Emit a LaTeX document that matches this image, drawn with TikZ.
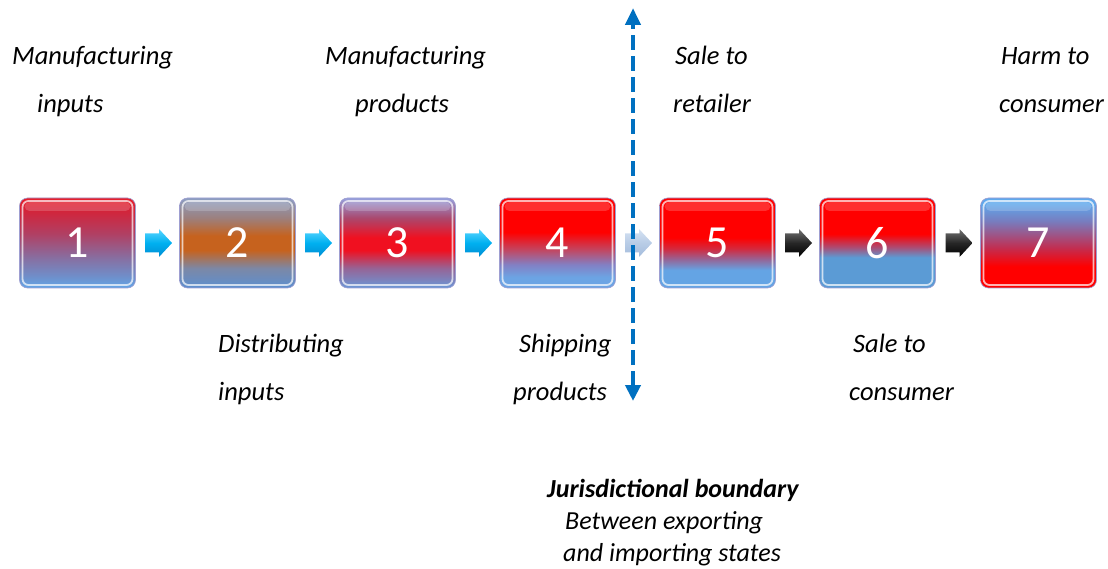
\documentclass[tikz,border=0pt]{standalone}
\usepackage{fontspec}
\setmainfont{Carlito}
\usetikzlibrary{calc,arrows.meta}
\pgfdeclareverticalshading{sh1}{100bp}{color(0bp)=(rgb,255:red,98;green,166;blue,232); color(25bp)=(rgb,255:red,98;green,166;blue,232); color(31bp)=(rgb,255:red,110;green,144;blue,204); color(42bp)=(rgb,255:red,136;green,110;blue,160); color(55bp)=(rgb,255:red,176;green,64;blue,100); color(68bp)=(rgb,255:red,210;green,36;blue,58); color(75bp)=(rgb,255:red,232;green,30;blue,42); color(100bp)=(rgb,255:red,232;green,30;blue,42)}
\pgfdeclareverticalshading{sh2}{100bp}{color(0bp)=(rgb,255:red,92;green,143;blue,208); color(25bp)=(rgb,255:red,92;green,143;blue,208); color(36bp)=(rgb,255:red,124;green,136;blue,166); color(46bp)=(rgb,255:red,198;green,98;blue,30); color(54bp)=(rgb,255:red,198;green,98;blue,30); color(64bp)=(rgb,255:red,156;green,128;blue,126); color(75bp)=(rgb,255:red,140;green,158;blue,194); color(100bp)=(rgb,255:red,140;green,158;blue,194)}
\pgfdeclareverticalshading{sh3}{100bp}{color(0bp)=(rgb,255:red,106;green,152;blue,216); color(25bp)=(rgb,255:red,106;green,152;blue,216); color(36bp)=(rgb,255:red,150;green,100;blue,150); color(46bp)=(rgb,255:red,240;green,16;blue,32); color(53bp)=(rgb,255:red,240;green,16;blue,32); color(64bp)=(rgb,255:red,170;green,72;blue,110); color(75bp)=(rgb,255:red,150;green,160;blue,222); color(100bp)=(rgb,255:red,150;green,160;blue,222)}
\pgfdeclareverticalshading{sh4}{100bp}{color(0bp)=(rgb,255:red,108;green,164;blue,228); color(31bp)=(rgb,255:red,108;green,164;blue,228); color(38bp)=(rgb,255:red,130;green,128;blue,196); color(46bp)=(rgb,255:red,192;green,72;blue,100); color(56bp)=(rgb,255:red,255;green,0;blue,0); color(100bp)=(rgb,255:red,255;green,0;blue,0)}
\pgfdeclareverticalshading{sh5}{100bp}{color(0bp)=(rgb,255:red,100;green,164;blue,228); color(35bp)=(rgb,255:red,100;green,164;blue,228); color(41bp)=(rgb,255:red,150;green,100;blue,150); color(47bp)=(rgb,255:red,212;green,40;blue,60); color(53bp)=(rgb,255:red,255;green,0;blue,0); color(100bp)=(rgb,255:red,255;green,0;blue,0)}
\pgfdeclareverticalshading{sh6}{100bp}{color(0bp)=(rgb,255:red,91;green,155;blue,213); color(42bp)=(rgb,255:red,91;green,155;blue,213); color(48bp)=(rgb,255:red,176;green,72;blue,110); color(55bp)=(rgb,255:red,255;green,0;blue,0); color(100bp)=(rgb,255:red,255;green,0;blue,0)}
\pgfdeclareverticalshading{sh7}{100bp}{color(0bp)=(rgb,255:red,255;green,0;blue,0); color(37bp)=(rgb,255:red,255;green,0;blue,0); color(47bp)=(rgb,255:red,196;green,44;blue,78); color(62bp)=(rgb,255:red,120;green,124;blue,190); color(72bp)=(rgb,255:red,95;green,168;blue,236); color(100bp)=(rgb,255:red,95;green,168;blue,236)}
\definecolor{jblue}{RGB}{0,112,192}
\definecolor{acyanT}{RGB}{90,214,255}
\definecolor{acyan}{RGB}{0,176,240}
\definecolor{acyanB}{RGB}{0,140,210}
\definecolor{afadeT}{RGB}{214,226,242}
\definecolor{afade}{RGB}{184,204,230}
\definecolor{afadeB}{RGB}{164,188,220}
\tikzset{
  box/.style={rounded corners=8pt, minimum width=116pt, minimum height=90pt, inner sep=0pt,
    draw=white!55!gray!80!blue, line width=0.6pt, text=white, font=\fontsize{46}{46}\selectfont,
    path picture={
      \draw[white, opacity=0.7, line width=1.8pt, rounded corners=6pt]
        ([shift={(3pt,-3pt)}]path picture bounding box.north west) rectangle
        ([shift={(-3pt,3pt)}]path picture bounding box.south east);
      \fill[white, opacity=0.18, rounded corners=5pt]
        ([shift={(5pt,-4pt)}]path picture bounding box.north west) rectangle
        ([shift={(-5pt,-13pt)}]path picture bounding box.north east);
    }},
  lbl/.style={font=\fontsize{26.5}{30}\selectfont\itshape, anchor=base west, inner sep=0pt},
  blockarr/.pic={\path[pic actions] (-13.5,-9.5) -- (0.5,-9.5) -- (0.5,-14) -- (13.5,0) -- (0.5,14) -- (0.5,9.5) -- (-13.5,9.5) -- cycle;},
  cyanarr/.style={top color=acyanT, bottom color=acyanB, middle color=acyan, draw=none},
  fadearr/.style={top color=afadeT, bottom color=afadeB, middle color=afade, draw=none},
  blackarr/.style={top color=black!55, bottom color=black, middle color=black!85, draw=none},
  jline/.style={draw=jblue, line width=4.5pt, dash pattern=on 15pt off 6pt, {Triangle[length=16pt,width=15pt]}-{Triangle[length=17pt,width=15pt]}}
}
\begin{document}
\begin{tikzpicture}[x=1pt,y=-1pt]
\useasboundingbox (0,0) rectangle (1108,569);
% boxes
\node[box, shading=sh1] (b1) at (77.5,243) {1};
\node[box, shading=sh2] (b2) at (237.5,243) {2};
\node[box, shading=sh3] (b3) at (397.5,243) {3};
\node[box, shading=sh4] (b4) at (557.5,243) {4};
\node[box, shading=sh5] (b5) at (717.5,243) {5};
\node[box, shading=sh6] (b6) at (877.5,243) {6};
\node[box, shading=sh7] (b7) at (1038.5,243) {7};
% connector arrows
\pic[cyanarr] at ($(b1.east)!0.5!(b2.west)+(1,0)$) {blockarr};
\pic[cyanarr] at ($(b2.east)!0.5!(b3.west)+(1,0)$) {blockarr};
\pic[cyanarr] at ($(b3.east)!0.5!(b4.west)+(1,0)$) {blockarr};
\pic[fadearr] at ($(b4.east)!0.5!(b5.west)+(1,0)$) {blockarr};
\pic[blackarr] at ($(b5.east)!0.5!(b6.west)+(1,0)$) {blockarr};
\pic[blackarr] at ($(b6.east)!0.5!(b7.west)+(1,0)$) {blockarr};
% jurisdictional boundary
\coordinate (jt) at (633,8);
\coordinate (jb) at (633,401);
\draw[jline] (jb) -- (jt);
% labels
\node[lbl] (t1a) at (12,65) {Manufacturing};
\node[lbl] (t1b) at (37,113) {inputs};
\node[lbl] (t3a) at (325,65) {Manufacturing};
\node[lbl] (t3b) at (355,113) {products};
\node[lbl] (t5a) at (675,65) {Sale to};
\node[lbl] (t5b) at (673,113) {retailer};
\node[lbl] (t7a) at (1001,65) {Harm to};
\node[lbl] (t7b) at (999,113) {consumer};
\node[lbl] (t2a) at (218,352) {Distributing};
\node[lbl] (t2b) at (218,400) {inputs};
\node[lbl] (t4a) at (519,352) {Shipping};
\node[lbl] (t4b) at (513,400) {products};
\node[lbl] (t6a) at (853,352) {Sale to};
\node[lbl] (t6b) at (849,400) {consumer};
\node[lbl, font=\fontsize{26}{30}\selectfont\bfseries\itshape] (j1) at (547,497) {Jurisdictional boundary};
\node[lbl, font=\fontsize{26}{30}\selectfont\itshape] (j2) at (565,529) {Between exporting};
\node[lbl, font=\fontsize{26}{30}\selectfont\itshape] (j3) at (563,561) {and importing states};
\end{tikzpicture}
\end{document}
